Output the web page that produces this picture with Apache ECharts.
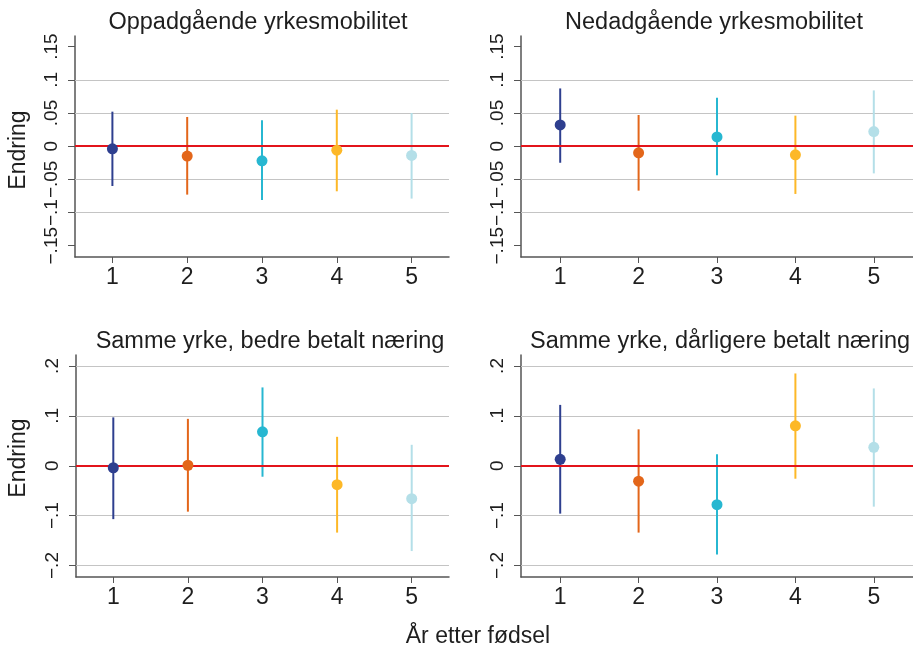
<!DOCTYPE html>
<html>
<head>
<meta charset="utf-8">
<script src="https://cdn.jsdelivr.net/npm/echarts@6/dist/echarts.min.js"></script>
<style>
html,body{margin:0;padding:0;background:#fff;}
#chart{width:913px;height:652px;}
</style>
</head>
<body>
<div id="chart"></div>
<script>
// ---- data ----
const categories = ['1', '2', '3', '4', '5'];
const titles = ['Oppadgående yrkesmobilitet', 'Nedadgående yrkesmobilitet',
  'Samme yrke, bedre betalt næring', 'Samme yrke, dårligere betalt næring'];
const yName = 'Endring';
const xName = 'År etter fødsel';

const upEst = [-0.004, -0.015, -0.022, -0.006, -0.014];
const upLo  = [-0.060, -0.073, -0.081, -0.068, -0.079];
const upHi  = [0.052, 0.044, 0.039, 0.055, 0.050];

const downEst = [0.032, -0.010, 0.014, -0.013, 0.022];
const downLo  = [-0.025, -0.067, -0.044, -0.072, -0.041];
const downHi  = [0.087, 0.047, 0.073, 0.046, 0.084];

const betterEst = [-0.004, 0.001, 0.068, -0.038, -0.066];
const betterLo  = [-0.107, -0.092, -0.022, -0.134, -0.171];
const betterHi  = [0.097, 0.094, 0.157, 0.058, 0.042];

const worseEst = [0.013, -0.031, -0.078, 0.080, 0.037];
const worseLo  = [-0.096, -0.134, -0.178, -0.026, -0.082];
const worseHi  = [0.122, 0.073, 0.023, 0.185, 0.155];

const topTicks = [-0.15, -0.1, -0.05, 0, 0.05, 0.1, 0.15];
const bottomTicks = [-0.2, -0.1, 0, 0.1, 0.2];
const topGridVals = [-0.1, -0.05, 0.05, 0.1];
const bottomGridVals = [-0.2, -0.1, 0.1, 0.2];
const topRange = [-0.167, 0.166];
const bottomRange = [-0.223, 0.222];
const refValue = 0;

// ---- styling / layout ----
const colors = ['#2e3f8f', '#e3661a', '#27b7d1', '#fdb827', '#b4dfe8'];
const FONT = '"Liberation Sans", Arial, sans-serif';
const layouts = [
  {left: 75, top: 36, width: 374, height: 221, tx: 253, ty: 6},
  {left: 521, top: 36, width: 392, height: 221, tx: 709, ty: 6},
  {left: 76, top: 355, width: 373, height: 222, tx: 265, ty: 325},
  {left: 521, top: 355, width: 392, height: 222, tx: 715, ty: 325}
];
const panels = [
  {est: upEst, lo: upLo, hi: upHi, ticks: topTicks, grid: topGridVals, range: topRange},
  {est: downEst, lo: downLo, hi: downHi, ticks: topTicks, grid: topGridVals, range: topRange},
  {est: betterEst, lo: betterLo, hi: betterHi, ticks: bottomTicks, grid: bottomGridVals, range: bottomRange},
  {est: worseEst, lo: worseLo, hi: worseHi, ticks: bottomTicks, grid: bottomGridVals, range: bottomRange}
];

function fmt(v) {
  if (Math.abs(v) < 1e-9) return '0';
  const s = String(+Math.abs(v).toFixed(3)).replace(/^0/, '');
  return (v < 0 ? '\u2212' : '') + s;
}

function renderBar(params, api) {
  const x = api.value(0);
  const p1 = api.coord([x, api.value(1)]);
  const p2 = api.coord([x, api.value(2)]);
  return {
    type: 'line',
    shape: {x1: p1[0], y1: p1[1], x2: p2[0], y2: p2[1]},
    style: {stroke: colors[params.dataIndex], lineWidth: 2}
  };
}

const grid = [], xAxis = [], yAxis = [], series = [], title = [];
panels.forEach((p, i) => {
  const L = layouts[i];
  grid.push({left: L.left, top: L.top, width: L.width, height: L.height, containLabel: false});
  title.push({
    text: titles[i], left: L.tx, top: L.ty, textAlign: 'center',
    textStyle: {fontFamily: FONT, fontSize: 23.5, fontWeight: 'normal', color: '#1e1e1e'}
  });
  xAxis.push({
    type: 'category', gridIndex: i, data: categories, boundaryGap: true,
    axisLine: {show: true, onZero: false, lineStyle: {color: '#555', width: 1.5}},
    axisTick: {show: true, alignWithLabel: true, length: 6, lineStyle: {color: '#555', width: 1}},
    axisLabel: {fontFamily: FONT, fontSize: 23, color: '#1e1e1e', margin: 9},
    splitLine: {show: false}
  });
  yAxis.push({
    type: 'value', gridIndex: i, min: p.range[0], max: p.range[1],
    axisLine: {show: true, lineStyle: {color: '#555', width: 1.5}},
    axisTick: {show: true, length: 7, customValues: p.ticks, lineStyle: {color: '#555', width: 1}},
    axisLabel: {
      customValues: p.ticks, rotate: 90, fontFamily: FONT, fontSize: 19, color: '#1e1e1e',
      margin: 14, formatter: fmt, hideOverlap: false, showMinLabel: true, showMaxLabel: true
    },
    splitLine: {show: false}
  });
  series.push({
    type: 'custom', xAxisIndex: i, yAxisIndex: i, z: 3,
    renderItem: renderBar,
    encode: {x: 0, y: [1, 2]},
    data: p.lo.map((lo, k) => [k, lo, p.hi[k]]),
    silent: true,
    markLine: {
      silent: true, symbol: ['none', 'none'], z: 1,
      label: {show: false},
      lineStyle: {color: '#c4c4c4', width: 1.2, type: 'solid'},
      data: p.grid.map(v => ({yAxis: v}))
    }
  });
  series.push({
    type: 'line', xAxisIndex: i, yAxisIndex: i, data: [], z: 4,
    markLine: {
      silent: true, symbol: ['none', 'none'], z: 4,
      label: {show: false},
      lineStyle: {color: '#e3141b', width: 2, type: 'solid'},
      data: [{yAxis: refValue}]
    }
  });
  series.push({
    type: 'scatter', xAxisIndex: i, yAxisIndex: i, z: 10, symbolSize: 11,
    silent: true,
    data: p.est.map((v, k) => ({value: [k, v], itemStyle: {color: colors[k], opacity: 1}}))
  });
});

const chart = echarts.init(document.getElementById('chart'), null, {renderer: 'canvas'});
chart.setOption({
  animation: false,
  backgroundColor: '#fff',
  title: title,
  grid: grid,
  xAxis: xAxis,
  yAxis: yAxis,
  series: series,
  graphic: [
    {type: 'text', x: 19, y: 150, rotation: Math.PI / 2,
     style: {text: yName, fontFamily: FONT, fontSize: 23, fill: '#1e1e1e', align: 'center', verticalAlign: 'middle'}},
    {type: 'text', x: 19, y: 458, rotation: Math.PI / 2,
     style: {text: yName, fontFamily: FONT, fontSize: 23, fill: '#1e1e1e', align: 'center', verticalAlign: 'middle'}},
    {type: 'text', x: 478, y: 637,
     style: {text: xName, fontFamily: FONT, fontSize: 23, fill: '#1e1e1e', align: 'center', verticalAlign: 'middle'}}
  ]
});
</script>
</body>
</html>
